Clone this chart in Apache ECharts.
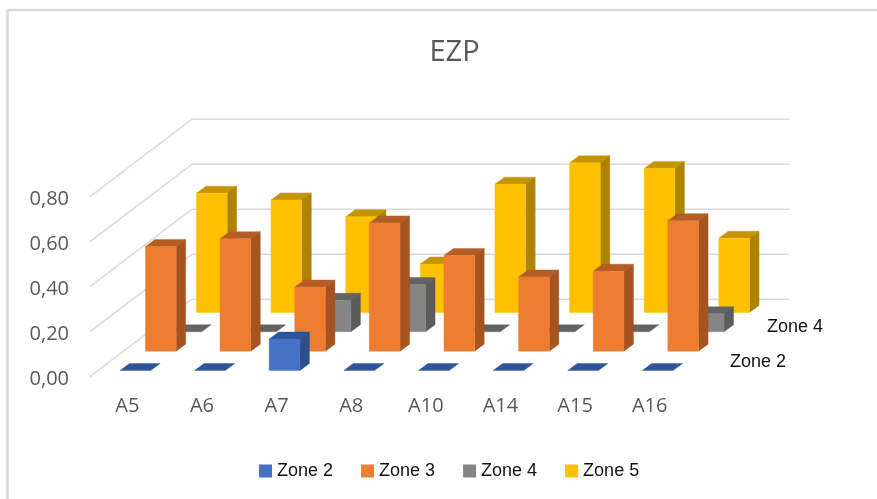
<!DOCTYPE html>
<html>
<head>
<meta charset="utf-8">
<style>html,body{margin:0;padding:0;background:#fff}#chart{width:877px;height:499px}</style>
<script src="https://cdn.jsdelivr.net/npm/echarts@6/dist/echarts.min.js"></script>
</head>
<body>
<div id="chart"></div>
<script>
const categories = ['A5', 'A6', 'A7', 'A8', 'A10', 'A14', 'A15', 'A16'];
const valueTicks = [0, 0.2, 0.4, 0.6, 0.8];
const zone2 = [0, 0, 0.14, 0, 0, 0, 0, 0];
const zone3 = [0.465, 0.5, 0.285, 0.57, 0.425, 0.33, 0.355, 0.58];
const zone4 = [0, 0, 0.14, 0.21, 0, 0, 0, 0.08];
const zone5 = [0.53, 0.5, 0.425, 0.215, 0.57, 0.665, 0.64, 0.33];

// Oblique projection of the third axis, in pixels per full chart depth.
const DEPTH_X = 102;
const DEPTH_Y = 77.5;
const ROWS = 4;
const BAR_RATIO = 0.412;
const BAR_DEPTH_X = 9.5;
const BAR_DEPTH_Y = 7;
const ROW_GAP_X = (DEPTH_X / ROWS - BAR_DEPTH_X) / 2;
const ROW_GAP_Y = (DEPTH_Y / ROWS - BAR_DEPTH_Y) / 2;

function poly(points, fill, extra) {
  return Object.assign({
    type: 'polygon',
    shape: { points: points },
    style: { fill: fill, stroke: fill, lineWidth: 0.4 }
  }, extra || {});
}

// One box per data item: front, side and top faces, shifted back by its row.
function boxRenderer(row, faces) {
  return function (params, api) {
    const i = api.value(0);
    const v = api.value(1);
    const base = api.coord([i, 0]);
    const top = api.coord([i, v]);
    const w = api.size([1, 0])[0] * BAR_RATIO;
    const shiftX = row * DEPTH_X / ROWS + ROW_GAP_X;
    const shiftY = row * DEPTH_Y / ROWS + ROW_GAP_Y;
    const x0 = base[0] - w / 2 + shiftX;
    const x1 = x0 + w;
    const y0 = base[1] - shiftY;
    const y1 = top[1] - shiftY;
    const dx = BAR_DEPTH_X;
    const dy = BAR_DEPTH_Y;
    const children = [
      poly([[x0, y1], [x1, y1], [x1 + dx, y1 - dy], [x0 + dx, y1 - dy]], faces.top)
    ];
    if (v > 0) {
      children.push(poly([[x1, y0], [x1 + dx, y0 - dy], [x1 + dx, y1 - dy], [x1, y1]], faces.side));
      children.push(poly([[x0, y0], [x1, y0], [x1, y1], [x0, y1]], faces.front));
    }
    return { type: 'group', children: children };
  };
}

// Gridline wrapping the floor's left edge and the back wall at one value.
function wallRenderer(params, api) {
  const v = api.value(1);
  const y = api.coord([0, v])[1];
  const left = params.coordSys.x;
  const right = left + params.coordSys.width;
  return {
    type: 'polyline',
    shape: { points: [[left, y], [left + DEPTH_X, y - DEPTH_Y], [right + DEPTH_X, y - DEPTH_Y]] },
    style: { fill: 'none', stroke: '#d9d9d9', lineWidth: 1.5 }
  };
}

function boxSeries(name, row, values, faces) {
  return {
    name: name,
    type: 'custom',
    coordinateSystem: 'cartesian2d',
    clip: false,
    renderItem: boxRenderer(row, faces),
    encode: { x: 0, y: 1 },
    itemStyle: { color: faces.front },
    data: values.map((v, i) => [i, v])
  };
}

const chart = echarts.init(document.getElementById('chart'), null, { renderer: 'canvas' });
const legendFont = { fontFamily: 'Liberation Sans', fontSize: 18, color: '#111' };
const tickFont = { fontFamily: 'Open Sans', fontSize: 20, color: '#595959' };

chart.setOption({
  animation: false,
  backgroundColor: '#fff',
  title: {
    text: 'EZP',
    left: 449.5,
    top: 33,
    textAlign: 'center',
    textStyle: { fontFamily: 'Open Sans', fontWeight: 'normal', fontSize: 29, color: '#595959' }
  },
  legend: {
    left: 259,
    top: 462,
    padding: 0,
    icon: 'rect',
    itemWidth: 13,
    itemHeight: 13,
    itemGap: 28,
    selectedMode: false,
    textStyle: legendFont,
    data: [
      { name: 'Zone 2' },
      { name: 'Zone 3', textStyle: Object.assign({ padding: [0, 0, 4, 0] }, legendFont) },
      { name: 'Zone 4' },
      { name: 'Zone 5' }
    ]
  },
  grid: { left: 90, top: 196.7, width: 597, height: 180 },
  xAxis: {
    type: 'category',
    data: categories,
    axisLine: { show: false },
    axisTick: { show: false },
    axisLabel: Object.assign({ margin: 20 }, tickFont)
  },
  yAxis: {
    type: 'value',
    min: 0,
    max: 0.8,
    interval: 0.2,
    axisLine: { show: false },
    axisTick: { show: false },
    splitLine: { show: false },
    axisLabel: Object.assign({
      margin: 21,
      formatter: v => '{tick|' + v.toFixed(2).replace('.', ',') + '}',
      rich: { tick: Object.assign({ padding: [6, 0, 0, 0] }, tickFont) }
    }, tickFont)
  },
  series: [
    {
      name: 'walls',
      type: 'custom',
      coordinateSystem: 'cartesian2d',
      clip: false,
      silent: true,
      renderItem: wallRenderer,
      encode: { x: 0, y: 1 },
      data: valueTicks.map(v => [0, v])
    },
    boxSeries('Zone 5', 3, zone5, { front: '#ffc000', side: '#ae8300', top: '#c49500' }),
    boxSeries('Zone 4', 2, zone4, { front: '#858585', side: '#5c5c5c', top: '#636363' }),
    boxSeries('Zone 3', 1, zone3, { front: '#ed7d31', side: '#a5531f', top: '#b55d24' }),
    boxSeries('Zone 2', 0, zone2, { front: '#4472c4', side: '#2c4f8e', top: '#2f5597' })
  ],
  graphic: [
    {
      type: 'polyline',
      silent: true,
      shape: { points: [[877, 10], [7.5, 10], [7.5, 499]] },
      style: { fill: 'none', stroke: '#d9d9d9', lineWidth: 2.5 }
    },
    {
      type: 'text', x: 767, y: 327.5,
      style: { text: 'Zone 4', font: '18px "Liberation Sans"', fill: '#111', textVerticalAlign: 'middle' }
    },
    {
      type: 'text', x: 730, y: 362.5,
      style: { text: 'Zone 2', font: '18px "Liberation Sans"', fill: '#111', textVerticalAlign: 'middle' }
    }
  ]
});
</script>
</body>
</html>
